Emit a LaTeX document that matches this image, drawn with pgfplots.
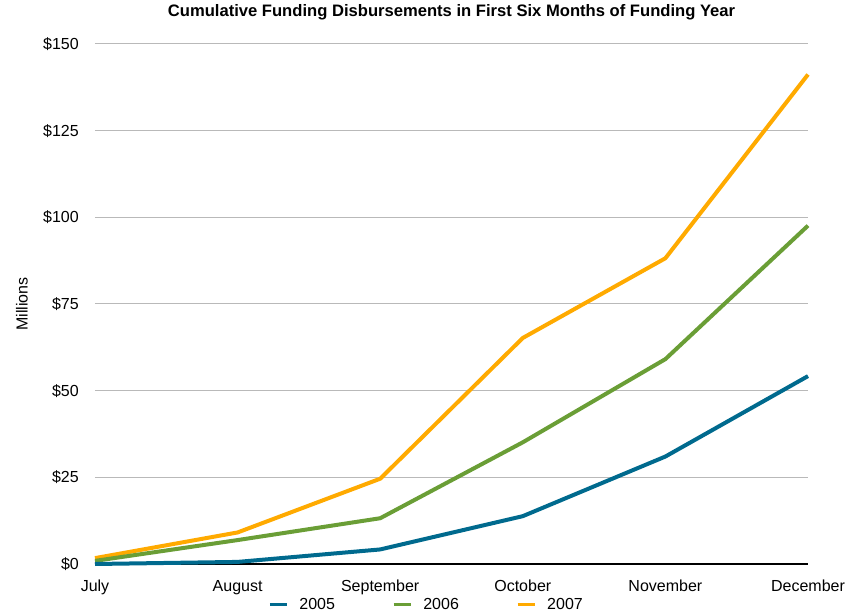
\documentclass[border=0pt]{standalone}
\usepackage{fontspec}
\setmainfont{Liberation Sans}
\usepackage{pgfplots}
\pgfplotsset{compat=1.18}
\definecolor{c2005}{RGB}{0,106,142}
\definecolor{c2006}{RGB}{106,158,54}
\definecolor{c2007}{RGB}{255,170,0}
\definecolor{gridc}{RGB}{185,185,185}
\pgfplotstableread{
x y
0 0.0
1 0.6
2 4.2
3 13.8
4 31.0
5 54.2
}\tA
\pgfplotstableread{
x y
0 0.9
1 6.9
2 13.2
3 35.1
4 59.1
5 97.6
}\tB
\pgfplotstableread{
x y
0 1.7
1 9.1
2 24.6
3 65.2
4 88.2
5 141.2
}\tC
\begin{document}
\begin{tikzpicture}
\begin{axis}[
  scale only axis,
  width=713bp, height=520bp,
  xmin=0, xmax=5, ymin=0, ymax=150,
  xtick={0,1,2,3,4,5},
  xticklabels={July,August,September,October,November,December},
  ytick={0,25,50,75,100,125,150},
  yticklabel={\$\pgfmathprintnumber{\tick}},
  /pgf/number format/assume math mode=true,
  major tick length=0pt,
  ymajorgrids, grid style={gridc, line width=1bp},
  axis y line*=left,
  y axis line style={draw=none},
  axis x line*=bottom,
  x axis line style={black, line width=1.2bp, -},
  font=\fontsize{16bp}{19bp}\selectfont,
  ticklabel style={font=\fontsize{16bp}{19bp}\selectfont},
  yticklabel style={anchor=east, inner sep=0pt, xshift=-16bp},
  xticklabel style={anchor=base, inner sep=0pt, yshift=-27bp},
  title={\bfseries Cumulative Funding Disbursements in First Six Months of Funding Year},
  title style={at={(0.5,1)}, anchor=base, inner sep=0pt, yshift=21.7bp, font=\fontsize{16.6bp}{19bp}\selectfont},
  clip=false,
  legend columns=3,
  reverse legend,
  legend style={draw=none, fill=none, at={(0.4635,-0.0785)}, anchor=center, inner sep=0pt,
    font=\fontsize{16bp}{19bp}\selectfont,
    nodes={inner sep=0pt},
    /tikz/every odd column/.append style={column sep=11bp},
    /tikz/every even column/.append style={column sep=57bp}},
  legend image code/.code={\draw[#1, line width=3.3bp] (0bp,0bp) -- (17bp,0bp);},
  legend cell align=left,
]
\coordinate (bl) at (rel axis cs:0,0);
\coordinate (ml) at (rel axis cs:0,0.5);
\addplot[c2007, line width=4bp, line join=round] table {\tC};
\addlegendentry{2007}
\addplot[c2006, line width=4bp, line join=round] table {\tB};
\addlegendentry{2006}
\addplot[c2005, line width=4bp, line join=round] table {\tA};
\addlegendentry{2005}
\end{axis}
\node[rotate=90, font=\fontsize{16bp}{19bp}\selectfont] at ([xshift=-73bp]ml) {Millions};
\pgfresetboundingbox
\path (bl) ++(-95bp,-49bp) rectangle ++(845bp,613bp);
\end{tikzpicture}
\end{document}
